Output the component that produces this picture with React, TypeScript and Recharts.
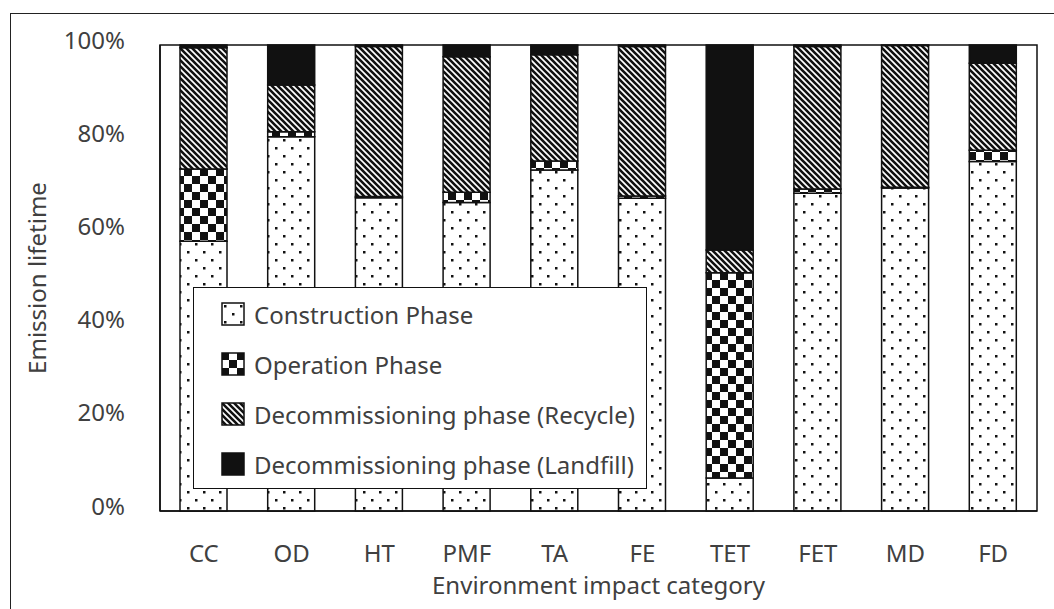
import React from "react";
import { BarChart, Bar, XAxis, YAxis, Legend, ReferenceArea } from "recharts";

// Environmental impact categories (x axis)
const categories = ["CC", "OD", "HT", "PMF", "TA", "FE", "TET", "FET", "MD", "FD"];

// Share of lifetime emission per phase, in %
const construction = [57.9, 80.3, 67.2, 66.2, 73.2, 67.1, 7.1, 68.2, 69.3, 75.0];
const operation = [15.5, 1.1, 0.3, 2.2, 1.9, 0.5, 44.0, 0.9, 0.2, 2.4];
const recycle = [26.0, 10.0, 32.2, 29.1, 22.8, 32.1, 4.9, 30.6, 30.4, 18.7];
const landfill = [0.6, 8.6, 0.3, 2.5, 2.1, 0.3, 44.0, 0.3, 0.1, 3.9];

const yTicks = [0, 0.2, 0.4, 0.6, 0.8, 1];

const seriesKeys = ["construction", "operation", "recycle", "landfill"];
const seriesNames = [
  "Construction Phase",
  "Operation Phase",
  "Decommissioning phase (Recycle)",
  "Decommissioning phase (Landfill)",
];
const seriesFills = ["url(#ch-dots)", "url(#ch-checker)", "url(#ch-hatch)", "#111"];

const data = categories.map((name, i) => ({
  name,
  construction: construction[i],
  operation: operation[i],
  recycle: recycle[i],
  landfill: landfill[i],
}));

const textColor = "#404040";
const lineColor = "#111";

const Patterns = ({ prefix }: { prefix: string }) => (
  <defs>
    <pattern id={`${prefix}-dots`} width={16} height={16} patternUnits="userSpaceOnUse">
      <rect width={16} height={16} fill="#fff" />
      <rect x={3} y={3} width={2.5} height={2.5} fill={lineColor} />
      <rect x={11} y={11} width={2.5} height={2.5} fill={lineColor} />
    </pattern>
    <pattern id={`${prefix}-checker`} width={16} height={16} patternUnits="userSpaceOnUse">
      <rect width={16} height={16} fill="#fff" />
      <rect width={8} height={8} fill={lineColor} />
      <rect x={8} y={8} width={8} height={8} fill={lineColor} />
    </pattern>
    <pattern id={`${prefix}-hatch`} width={6} height={6} patternUnits="userSpaceOnUse">
      <rect width={6} height={6} fill="#fff" />
      <path
        d="M-1.5,4.5 L1.5,7.5 M0,0 L6,6 M4.5,-1.5 L7.5,1.5"
        stroke={lineColor}
        strokeWidth={2.6}
      />
    </pattern>
  </defs>
);

// boxed legend drawn inside the plot, like the original
const LegendBox = () => (
  <div
    style={{
      width: 454,
      height: 202,
      boxSizing: "border-box",
      border: `1.5px solid ${lineColor}`,
      background: "#fff",
      paddingTop: 1,
      paddingLeft: 27,
    }}
  >
    {seriesNames.map((name, i) => (
      <div key={name} style={{ display: "flex", alignItems: "center", height: 50 }}>
        <svg width={24} height={24} style={{ flex: "none" }}>
          <rect
            x={1}
            y={1}
            width={22}
            height={22}
            fill={seriesFills[i]}
            stroke={lineColor}
            strokeWidth={1.5}
          />
        </svg>
        <span style={{ marginLeft: 9, fontSize: 24, color: textColor, whiteSpace: "nowrap" }}>
          {name}
        </span>
      </div>
    ))}
  </div>
);

export default function App() {
  return (
    <div
      style={{
        position: "absolute",
        left: 0,
        top: 0,
        width: 1054,
        height: 609,
        overflow: "hidden",
        background: "#fff",
        fontFamily: "'Noto Sans', sans-serif",
      }}
    >
      {/* outer chart frame */}
      <div
        style={{
          position: "absolute",
          left: 10,
          top: 13,
          width: 1100,
          height: 700,
          border: "1.5px solid #222",
        }}
      />
      <BarChart
        width={1054}
        height={609}
        data={data}
        stackOffset="expand"
        barSize={47}
        margin={{ top: 45, right: 17, left: 10, bottom: 14 }}
      >
        <Patterns prefix="ch" />
        <XAxis
          dataKey="name"
          tickLine={false}
          tickSize={0}
          tickMargin={34}
          height={84}
          axisLine={{ stroke: lineColor, strokeWidth: 1.5 }}
          tick={{ fontSize: 24, fill: textColor }}
          label={{
            value: "Environment impact category",
            position: "insideBottom",
            offset: 1,
            fontSize: 24,
            fill: textColor,
          }}
        />
        <YAxis
          type="number"
          domain={[0, 1]}
          ticks={yTicks}
          tickFormatter={(v) => `${Math.round(Number(v) * 100)}%`}
          tickLine={false}
          tickSize={0}
          tickMargin={35}
          width={150}
          axisLine={{ stroke: lineColor, strokeWidth: 1.5 }}
          tick={{ fontSize: 24, fill: textColor, dy: -5 }}
          label={{
            value: "Emission lifetime",
            angle: -90,
            position: "insideLeft",
            offset: 27,
            fontSize: 24,
            fill: textColor,
            style: { textAnchor: "middle" },
          }}
        />
        {seriesKeys.map((key, i) => (
          <Bar
            key={key}
            dataKey={key}
            name={seriesNames[i]}
            stackId="phase"
            fill={seriesFills[i]}
            stroke={lineColor}
            strokeWidth={1.5}
            isAnimationActive={false}
          />
        ))}
        <ReferenceArea
          y1={0}
          y2={1}
          fill="none"
          stroke={lineColor}
          strokeWidth={1.5}
        />
        <Legend
          layout="vertical"
          align="center"
          verticalAlign="middle"
          wrapperStyle={{ left: 193, top: 287, width: 454, height: 202 }}
          content={() => <LegendBox />}
        />
      </BarChart>
    </div>
  );
}
